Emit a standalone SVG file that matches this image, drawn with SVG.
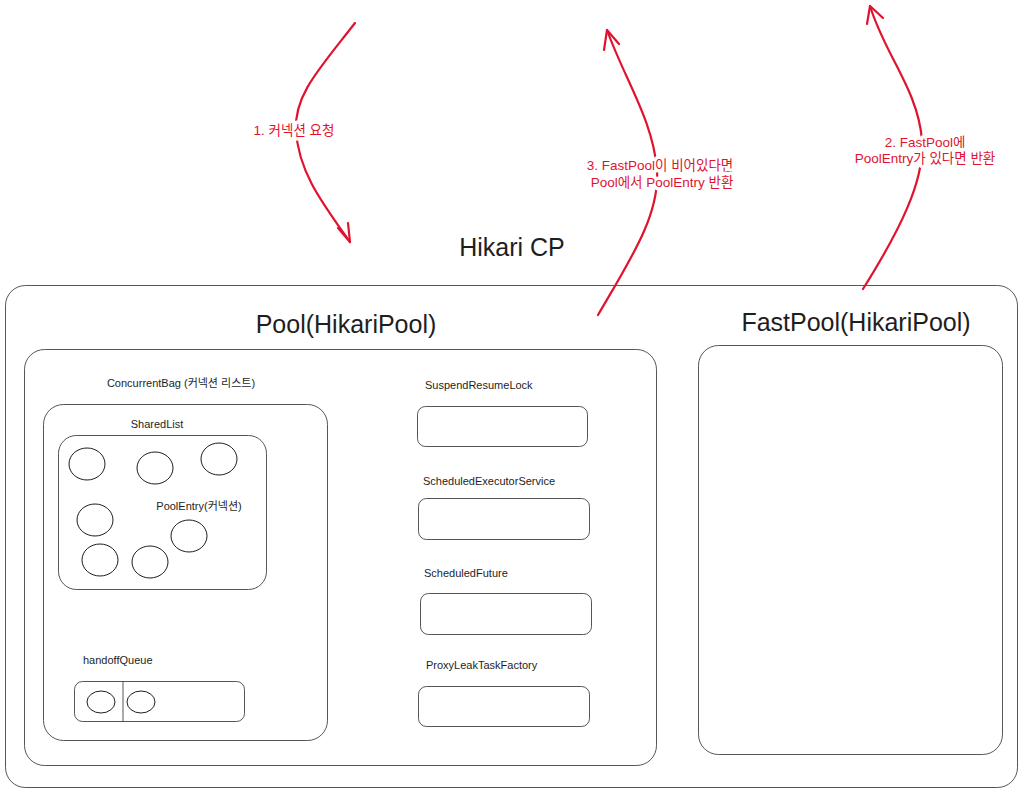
<svg xmlns="http://www.w3.org/2000/svg" width="1025" height="793" viewBox="0 0 1025 793">
<style>
text{font-family:"Liberation Sans","Noto Sans CJK KR",Arial,sans-serif;fill:#1e1e1e}
.box{fill:none;stroke:#1e1e1e;stroke-width:1;opacity:0.75}
.sm{font-size:11px}
.big{font-size:25px;text-anchor:middle}
.red{fill:#e0132f;font-size:13.5px;text-anchor:middle;stroke:#fff;stroke-width:7;paint-order:stroke;stroke-linejoin:round}
.arr{fill:none;stroke:#e0132f;stroke-width:2.2;stroke-linecap:round;stroke-linejoin:round}
.c{fill:none;stroke:#1e1e1e;stroke-width:1}
</style>
<rect width="1025" height="793" fill="#fff"/>
<g id="hikari-cp">
<rect class="box" x="5.5" y="285.5" width="1012" height="502" rx="20"/>
<text class="big" x="512" y="256">Hikari CP</text>
</g>
<g id="pool">
<text class="big" x="346" y="333">Pool(HikariPool)</text>
<rect class="box" x="24.5" y="349.5" width="632" height="416" rx="20"/>
</g>
<g id="fastpool">
<text class="big" x="856" y="331">FastPool(HikariPool)</text>
<rect class="box" x="698.5" y="345.5" width="304" height="409" rx="20"/>
</g>
<g id="concurrent-bag">
<text class="sm" x="181" y="387" text-anchor="middle">ConcurrentBag (커넥션 리스트)</text>
<rect class="box" x="43.5" y="404.5" width="284" height="336" rx="20"/>
</g>
<g id="shared-list">
<text class="sm" x="157" y="428" text-anchor="middle">SharedList</text>
<rect class="box" x="58.5" y="435.5" width="208" height="154" rx="18"/>
<ellipse class="c" cx="87" cy="464" rx="18" ry="16"/>
<ellipse class="c" cx="155" cy="468" rx="18" ry="16"/>
<ellipse class="c" cx="219" cy="459" rx="18" ry="16"/>
<ellipse class="c" cx="95" cy="520" rx="18" ry="16"/>
<ellipse class="c" cx="100" cy="560" rx="18" ry="16"/>
<ellipse class="c" cx="150" cy="562" rx="18" ry="16"/>
<ellipse class="c" cx="189" cy="536" rx="18" ry="16"/>
<text class="sm" x="199" y="510" text-anchor="middle">PoolEntry(커넥션)</text>
</g>
<g id="handoff-queue">
<text class="sm" x="83" y="664">handoffQueue</text>
<rect class="box" x="74.5" y="681.5" width="170" height="40" rx="8"/>
<line class="box" x1="123" y1="681.5" x2="123" y2="721.5"/>
<ellipse class="c" cx="101" cy="702" rx="14" ry="11"/>
<ellipse class="c" cx="141" cy="702" rx="14" ry="11"/>
</g>
<g id="suspend-resume-lock">
<text class="sm" x="425" y="389">SuspendResumeLock</text>
<rect class="box" x="417.5" y="406.5" width="170" height="40" rx="8"/>
</g>
<g id="scheduled-executor-service">
<text class="sm" x="423" y="485">ScheduledExecutorService</text>
<rect class="box" x="418.5" y="498.5" width="171" height="41" rx="8"/>
</g>
<g id="scheduled-future">
<text class="sm" x="424" y="577">ScheduledFuture</text>
<rect class="box" x="420.5" y="593.5" width="171" height="41" rx="8"/>
</g>
<g id="proxy-leak-task-factory">
<text class="sm" x="426" y="669">ProxyLeakTaskFactory</text>
<rect class="box" x="418.5" y="686.5" width="171" height="40" rx="8"/>
</g>
<g id="connectors">
<path class="arr" d="M355,23 C320,68 294,95 296,130 C298,170 320,200 350,242"/>
<path class="arr" d="M338,228 L350,242 L348,223"/>
<path class="arr" d="M598,315 C630,260 660,215 657,170 C653,120 625,80 607,30"/>
<path class="arr" d="M604,50 L607,30 L619,44"/>
<path class="arr" d="M863,289 C900,230 925,180 922,140 C918,90 885,55 870,6"/>
<path class="arr" d="M867,24 L870,6 L883,18"/>
</g>
<g id="labels">
<text class="red" x="294" y="135">1. 커넥션 요청</text>
<text class="red" x="660" y="170">3. FastPool이 비어있다면</text>
<text class="red" x="662" y="187">Pool에서 PoolEntry 반환</text>
<text class="red" x="925" y="147">2. FastPool에</text>
<text class="red" x="925" y="163">PoolEntry가 있다면 반환</text>
</g>
</svg>
